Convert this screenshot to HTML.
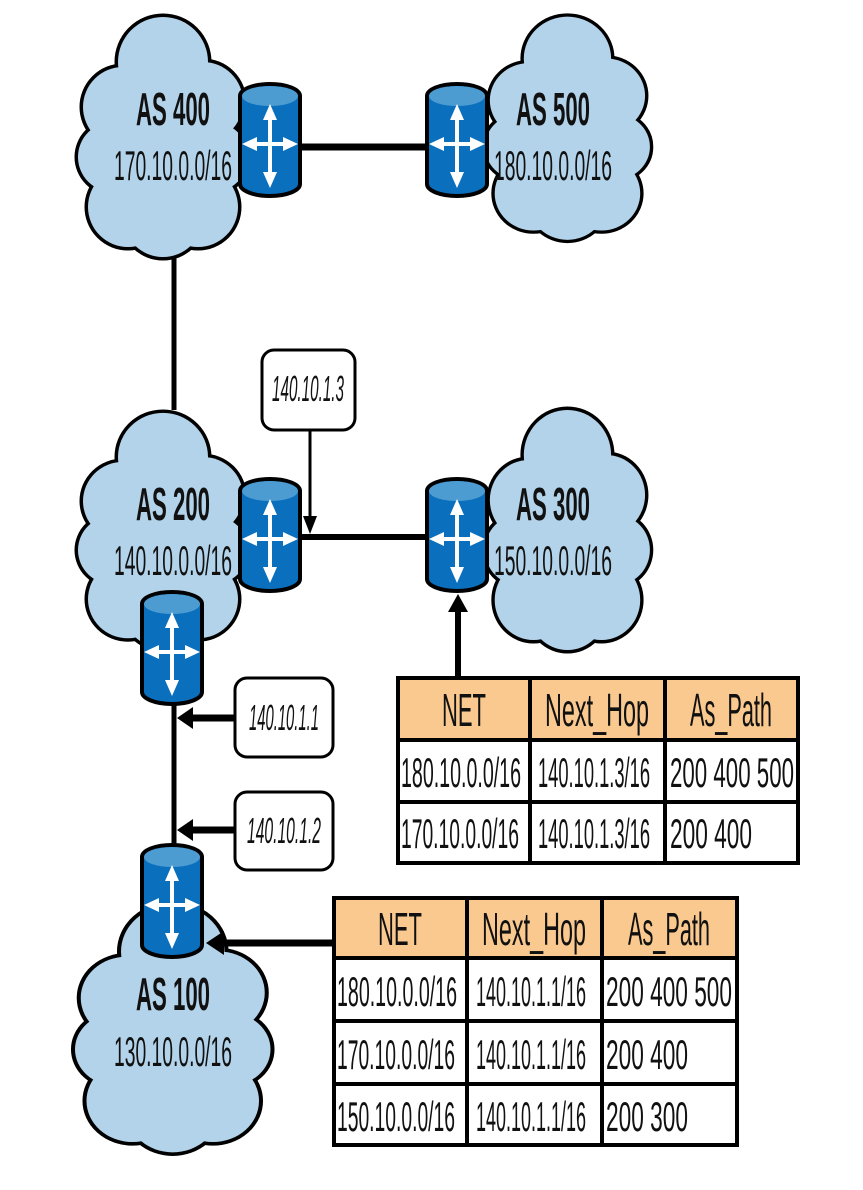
<!DOCTYPE html>
<html><head><meta charset="utf-8"><style>
html,body{margin:0;padding:0;background:#fff;width:863px;height:1190px;overflow:hidden}
text{font-family:"Liberation Sans Narrow","Liberation Sans",sans-serif;fill:#111}
.h{font-size:46px;font-weight:bold}
.n{font-size:42px}
.l{font-size:36px;font-style:italic}
.th{font-size:46px}
.td{font-size:42px}
</style></head><body>
<svg width="863" height="1190" viewBox="0 0 863 1190" xmlns="http://www.w3.org/2000/svg">
<defs>
<g id="cloudS" stroke="#000" stroke-width="7">
<circle cx="85" cy="50" r="45"/><circle cx="45" cy="95" r="40"/><circle cx="125" cy="90" r="40"/>
<circle cx="35" cy="145" r="35"/><circle cx="135" cy="145" r="35"/><circle cx="50" cy="195" r="40"/>
<circle cx="120" cy="195" r="40"/><circle cx="85" cy="205" r="40"/><ellipse cx="85" cy="130" rx="70" ry="90"/>
</g>
<g id="cloudF" fill="#b3d3ea">
<circle cx="85" cy="50" r="45"/><circle cx="45" cy="95" r="40"/><circle cx="125" cy="90" r="40"/>
<circle cx="35" cy="145" r="35"/><circle cx="135" cy="145" r="35"/><circle cx="50" cy="195" r="40"/>
<circle cx="120" cy="195" r="40"/><circle cx="85" cy="205" r="40"/><ellipse cx="85" cy="130" rx="70" ry="90"/>
</g>
<g id="cloud"><use href="#cloudS"/><use href="#cloudF"/></g>
<g id="router">
<path d="M2,14 A30,12 0 0 1 62,14 V102 A30,12 0 0 1 2,102 Z" fill="#0a6fbd" stroke="#000" stroke-width="4"/>
<ellipse cx="32" cy="14" rx="28" ry="10" fill="#4c9bd1"/>
<path d="M32,34 V94 M14,62 H50" stroke="#fff" stroke-width="4"/>
<path d="M32,22 L25,38 L39,38 Z M32,106 L25,90 L39,90 Z M4,62 L19,55 L19,69 Z M60,62 L45,55 L45,69 Z" fill="#fff"/>
</g>
</defs>

<line x1="174" y1="250" x2="174" y2="410" stroke="#000" stroke-width="5"/>
<line x1="174" y1="700" x2="174" y2="845" stroke="#000" stroke-width="5"/>

<use href="#cloud" transform="translate(78,12)"/>
<use href="#cloud" transform="translate(485,12) scale(0.97,0.93)"/>
<use href="#cloud" transform="translate(78,408) scale(1,0.98)"/>
<use href="#cloud" transform="translate(485,405) scale(0.97,1)"/>
<use href="#cloud" transform="translate(75,900) scale(1.15,1.03)"/>

<line x1="300" y1="147" x2="428" y2="147" stroke="#000" stroke-width="7"/>
<line x1="300" y1="537" x2="428" y2="537" stroke="#000" stroke-width="6"/>

<text class="h" x="173" y="125" text-anchor="middle" textLength="74" lengthAdjust="spacingAndGlyphs">AS 400</text>
<text class="n" x="173" y="180" text-anchor="middle" textLength="118" lengthAdjust="spacingAndGlyphs">170.10.0.0/16</text>
<text class="h" x="553" y="125" text-anchor="middle" textLength="74" lengthAdjust="spacingAndGlyphs">AS 500</text>
<text class="n" x="553" y="180" text-anchor="middle" textLength="118" lengthAdjust="spacingAndGlyphs">180.10.0.0/16</text>
<text class="h" x="173" y="520" text-anchor="middle" textLength="74" lengthAdjust="spacingAndGlyphs">AS 200</text>
<text class="n" x="173" y="575" text-anchor="middle" textLength="118" lengthAdjust="spacingAndGlyphs">140.10.0.0/16</text>
<text class="h" x="553" y="520" text-anchor="middle" textLength="74" lengthAdjust="spacingAndGlyphs">AS 300</text>
<text class="n" x="553" y="575" text-anchor="middle" textLength="118" lengthAdjust="spacingAndGlyphs">150.10.0.0/16</text>
<text class="h" x="173" y="1010" text-anchor="middle" textLength="74" lengthAdjust="spacingAndGlyphs">AS 100</text>
<text class="n" x="173" y="1066" text-anchor="middle" textLength="118" lengthAdjust="spacingAndGlyphs">130.10.0.0/16</text>

<use href="#router" transform="translate(238,82)"/>
<use href="#router" transform="translate(425,82)"/>
<use href="#router" transform="translate(238,477)"/>
<use href="#router" transform="translate(425,477)"/>
<use href="#router" transform="translate(140,590)"/>
<use href="#router" transform="translate(140,843)"/>

<rect x="262" y="350" width="93" height="80" rx="12" fill="#fff" stroke="#000" stroke-width="3"/>
<text class="l" x="308" y="401" text-anchor="middle" textLength="72" lengthAdjust="spacingAndGlyphs">140.10.1.3</text>
<line x1="310" y1="430" x2="310" y2="528" stroke="#000" stroke-width="3"/>
<path d="M310,534 L303,516 L317,516 Z" fill="#000"/>

<rect x="235" y="678" width="98" height="79" rx="12" fill="#fff" stroke="#000" stroke-width="3"/>
<text class="l" x="284" y="730" text-anchor="middle" textLength="70" lengthAdjust="spacingAndGlyphs">140.10.1.1</text>
<line x1="235" y1="718" x2="190" y2="718" stroke="#000" stroke-width="7"/>
<path d="M177,718 L193,707 L193,729 Z" fill="#000"/>

<rect x="235" y="792" width="98" height="78" rx="12" fill="#fff" stroke="#000" stroke-width="3"/>
<text class="l" x="284" y="843" text-anchor="middle" textLength="74" lengthAdjust="spacingAndGlyphs">140.10.1.2</text>
<line x1="235" y1="830" x2="190" y2="830" stroke="#000" stroke-width="7"/>
<path d="M177,830 L193,819 L193,841 Z" fill="#000"/>

<line x1="458" y1="678" x2="458" y2="608" stroke="#000" stroke-width="6"/>
<path d="M458,594 L448,612 L468,612 Z" fill="#000"/>
<line x1="332" y1="943" x2="222" y2="943" stroke="#000" stroke-width="7"/>
<path d="M206,943 L224,931 L224,955 Z" fill="#000"/>

<g stroke="#000" stroke-width="4">
<rect x="398" y="678" width="400" height="62" fill="#f9c98f"/>
<rect x="398" y="740" width="400" height="123" fill="#fff"/>
<line x1="398" y1="802" x2="798" y2="802"/>
<line x1="530" y1="678" x2="530" y2="863"/>
<line x1="665" y1="678" x2="665" y2="863"/>
</g>
<text class="th" x="464" y="726" text-anchor="middle" textLength="44" lengthAdjust="spacingAndGlyphs">NET</text>
<text class="th" x="597" y="726" text-anchor="middle" textLength="104" lengthAdjust="spacingAndGlyphs">Next_Hop</text>
<text class="th" x="731" y="726" text-anchor="middle" textLength="82" lengthAdjust="spacingAndGlyphs">As_Path</text>
<text class="td" x="401" y="787" textLength="120" lengthAdjust="spacingAndGlyphs">180.10.0.0/16</text>
<text class="td" x="538" y="787" textLength="112" lengthAdjust="spacingAndGlyphs">140.10.1.3/16</text>
<text class="td" x="670" y="787" textLength="124" lengthAdjust="spacingAndGlyphs">200 400 500</text>
<text class="td" x="401" y="848" textLength="118" lengthAdjust="spacingAndGlyphs">170.10.0.0/16</text>
<text class="td" x="538" y="848" textLength="112" lengthAdjust="spacingAndGlyphs">140.10.1.3/16</text>
<text class="td" x="670" y="848" textLength="82" lengthAdjust="spacingAndGlyphs">200 400</text>

<g stroke="#000" stroke-width="4">
<rect x="334" y="898" width="403" height="60" fill="#f9c98f"/>
<rect x="334" y="958" width="403" height="187" fill="#fff"/>
<line x1="334" y1="1021" x2="737" y2="1021"/>
<line x1="334" y1="1084" x2="737" y2="1084"/>
<line x1="467" y1="898" x2="467" y2="1145"/>
<line x1="602" y1="898" x2="602" y2="1145"/>
</g>
<text class="th" x="400" y="945" text-anchor="middle" textLength="44" lengthAdjust="spacingAndGlyphs">NET</text>
<text class="th" x="534" y="945" text-anchor="middle" textLength="104" lengthAdjust="spacingAndGlyphs">Next_Hop</text>
<text class="th" x="669" y="945" text-anchor="middle" textLength="82" lengthAdjust="spacingAndGlyphs">As_Path</text>
<text class="td" x="337" y="1006" textLength="120" lengthAdjust="spacingAndGlyphs">180.10.0.0/16</text>
<text class="td" x="476" y="1006" textLength="110" lengthAdjust="spacingAndGlyphs">140.10.1.1/16</text>
<text class="td" x="606" y="1006" textLength="126" lengthAdjust="spacingAndGlyphs">200 400 500</text>
<text class="td" x="337" y="1069" textLength="118" lengthAdjust="spacingAndGlyphs">170.10.0.0/16</text>
<text class="td" x="476" y="1069" textLength="110" lengthAdjust="spacingAndGlyphs">140.10.1.1/16</text>
<text class="td" x="606" y="1069" textLength="82" lengthAdjust="spacingAndGlyphs">200 400</text>
<text class="td" x="337" y="1131" textLength="118" lengthAdjust="spacingAndGlyphs">150.10.0.0/16</text>
<text class="td" x="476" y="1131" textLength="110" lengthAdjust="spacingAndGlyphs">140.10.1.1/16</text>
<text class="td" x="606" y="1131" textLength="82" lengthAdjust="spacingAndGlyphs">200 300</text>
</svg>
</body></html>
